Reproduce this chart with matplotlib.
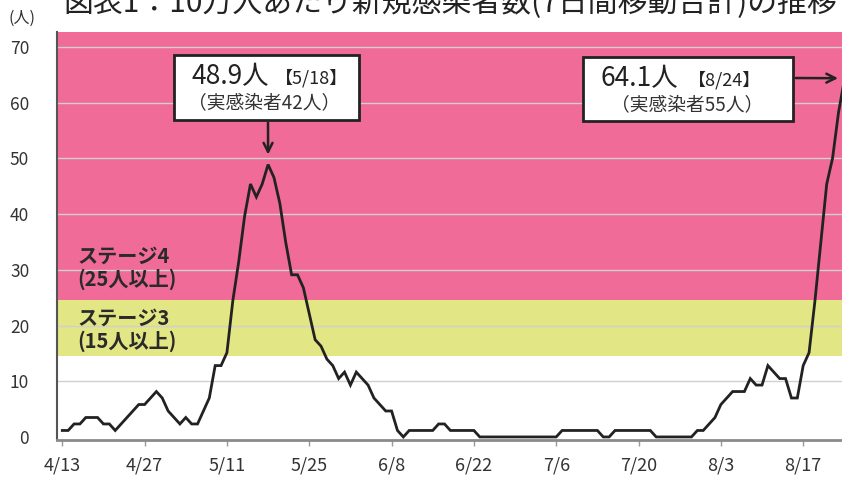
import numpy as np
import matplotlib.pyplot as plt
from matplotlib.patches import Rectangle

plt.rcParams['font.family'] = ['Noto Sans CJK JP', 'DejaVu Sans']

# 10万人あたり新規感染者数 (7日間移動合計), 4/13 -> 8/24, one value per day
values = [
    1.16, 1.16, 2.33, 2.33, 3.49, 3.49, 3.49, 2.33, 2.33, 1.16,      # 4/13-4/22
    2.33, 3.49, 4.66, 5.82, 5.82, 6.99, 8.15, 6.99, 4.66, 3.49,      # 4/23-5/2
    2.33, 3.49, 2.33, 2.33, 4.66, 6.99, 12.81, 12.81, 15.14, 24.45,  # 5/3-5/12
    31.44, 39.59, 45.41, 43.08, 45.41, 48.9, 46.57, 41.92, 34.93, 29.11,  # 5/13-5/22
    29.11, 26.78, 22.12, 17.46, 16.3, 13.97, 12.81, 10.48, 11.64, 9.31,   # 5/23-6/1
    11.64, 10.48, 9.31, 6.99, 5.82, 4.66, 4.66, 1.16, 0.0, 1.16,     # 6/2-6/11
    1.16, 1.16, 1.16, 1.16, 2.33, 2.33, 1.16, 1.16, 1.16, 1.16,      # 6/12-6/21
    1.16, 0, 0, 0, 0, 0, 0, 0, 0, 0,                                 # 6/22-7/1
    0, 0, 0, 0, 0, 1.16, 1.16, 1.16, 1.16, 1.16,                     # 7/2-7/11
    1.16, 1.16, 0, 0, 1.16, 1.16, 1.16, 1.16, 1.16, 1.16,            # 7/12-7/21
    1.16, 0, 0, 0, 0, 0, 0, 0, 1.16, 1.16,                           # 7/22-7/31
    2.33, 3.49, 5.82, 6.99, 8.15, 8.15, 8.15, 10.48, 9.31, 9.31,     # 8/1-8/10
    12.81, 11.64, 10.48, 10.48, 6.99, 6.99, 12.81, 15.14, 24.45, 34.93,  # 8/11-8/20
    45.41, 50.07, 58.2, 64.1,                                        # 8/21-8/24
]
tick_days = [0, 14, 28, 42, 56, 70, 84, 98, 112, 126]
tick_labels = ['4/13', '4/27', '5/11', '5/25', '6/8', '6/22', '7/6', '7/20', '8/3', '8/17']
yticks = [0, 10, 20, 30, 40, 50, 60, 70]

stage3 = 15
stage4 = 25
peak1 = ('48.9人', '【5/18】', '（実感染者42人）')
peak2 = ('64.1人', '【8/24】', '（実感染者55人）')

days = np.arange(len(values))
W, H = 842, 480
fig = plt.figure(figsize=(W / 100, H / 100), dpi=100)
ax = fig.add_axes([57 / W, 40 / H, 1 - 57 / W, (440 - 32) / H])

pink = '#f06b98'
yellow = '#e3e684'
ax.axhspan(stage4 - 0.5, 80, color=pink, lw=0, zorder=0)
ax.axhspan(stage3 - 0.5, stage4 - 0.5, color=yellow, lw=0, zorder=0)
for yv in yticks[1:]:
    ax.axhline(yv, color='#d0d0d0', lw=1, zorder=1)

ax.plot(days, values, color='#222222', lw=2.0, zorder=3, solid_joinstyle='miter')

ax.set_xlim(-0.9, 132.6)
ax.set_ylim(-0.55, 72.7)
ax.set_xticks(tick_days)
ax.set_xticklabels(tick_labels, fontsize=13, color='#333333')
ax.set_yticks(yticks)
ax.set_yticklabels([str(v) for v in yticks], fontsize=12.5, color='#333333')
ax.tick_params(axis='y', length=0, pad=20)
ax.tick_params(axis='x', length=4, width=1, color='#999999', pad=8)
for s in ['top', 'right']:
    ax.spines[s].set_visible(False)
ax.spines['left'].set_color('#555555')
ax.spines['left'].set_linewidth(1.5)
ax.spines['bottom'].set_color('#8a8a8a')
ax.spines['bottom'].set_linewidth(2)

# stage labels
ax.text(2.5, 30.4, 'ステージ4\n(25人以上)', fontsize=14.5, fontweight='bold',
        color='#2a2a2a', va='center', ha='left', linespacing=1.1)
ax.text(2.5, 19.3, 'ステージ3\n(15人以上)', fontsize=14.5, fontweight='bold',
        color='#2a2a2a', va='center', ha='left', linespacing=1.1)


def fx(px):
    return px / W


def fy(py):
    return 1 - py / H


def callout(box, texts, x_num, x_br, x_mid):
    x0, y0, x1, y1 = box
    fig.patches.append(Rectangle((fx(x0), fy(y1)), fx(x1) - fx(x0), fy(y0) - fy(y1),
                                 transform=fig.transFigure, facecolor='white',
                                 edgecolor='#222222', lw=2, zorder=5))
    fig.text(fx(x_num), fy(y0 + 22), texts[0], fontsize=19, color='#222222',
             ha='left', va='center', zorder=6)
    fig.text(fx(x_br), fy(y0 + 23), texts[1], fontsize=13, color='#222222',
             ha='left', va='center', zorder=6)
    fig.text(fx(x_mid), fy(y0 + 48), texts[2], fontsize=13.5, color='#333333',
             ha='center', va='center', zorder=6)


callout((174, 55, 359, 120), peak1, 192, 275, 264)
callout((583, 57, 793, 121), peak2, 600, 688, 687)

arrow = dict(arrowstyle='->', color='#222222', lw=1.8, mutation_scale=16)
ax.annotate('', xy=(35, 50.2), xytext=(fx(268), fy(120)), textcoords='figure fraction',
            arrowprops=arrow, annotation_clip=False)
ax.annotate('', xy=(132.4, 64.4), xytext=(fx(793), fy(78)), textcoords='figure fraction',
            arrowprops=arrow, annotation_clip=False)

fig.text(fx(63), fy(3), '図表1：10万人あたり新規感染者数(7日間移動合計)の推移',
         fontsize=21.5, color='#222222', ha='left', va='center')
fig.text(fx(8), fy(18), '(人)', fontsize=11.5, color='#333333', ha='left', va='center')

fig.savefig('out.png', dpi=100)
